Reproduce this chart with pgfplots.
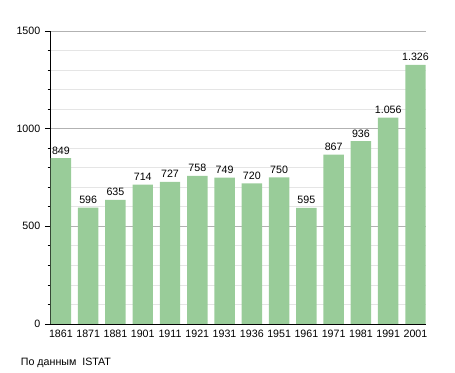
\documentclass[border=0pt]{standalone}
\usepackage{pgfplots}
\pgfplotsset{compat=1.18}
\usepackage{fontspec}
\setmainfont{Liberation Sans}
\definecolor{bargreen}{RGB}{153,204,153}
\begin{document}
\begin{tikzpicture}
\path[use as bounding box] (0pt,0pt) rectangle (341.25pt,279.75pt);
\begin{axis}[
  at={(37.5pt,36.75pt)}, anchor=south west,
  scale only axis, width=282pt, height=219.75pt,
  xmin=-0.40, xmax=13.385, ymin=0, ymax=1500,
  ybar, bar width=0.75,
  axis x line*=bottom, axis y line*=left,
  axis line style={-, black, line width=0.7pt},
  xtick={0,...,13},
  xticklabels={1861,1871,1881,1901,1911,1921,1931,1936,1951,1961,1971,1981,1991,2001},
  xtick style={draw=none},
  ytick={0,500,1000,1500},
  minor y tick num=4,
  tick align=outside,
  major tick length=3.75pt, minor tick length=1.8pt,
  tick style={black, line width=0.6pt},
  ymajorgrids, yminorgrids,
  major grid style={draw=black!30, line width=0.6pt},
  minor grid style={draw=black!10, line width=0.6pt},
  /pgf/number format/assume math mode=true,
  yticklabel style={/pgf/number format/1000 sep={}},
  tick label style={font=\fontsize{8}{9.6}\selectfont},
  xticklabel style={yshift=2.5pt},
  nodes near coords={\pgfmathprintnumber[1000 sep={.},assume math mode=true]{\pgfplotspointmeta}},
  every node near coord/.append style={font=\fontsize{8}{9.6}\selectfont, black, yshift=-0.5pt},
  clip=false,
]
\addplot[fill=bargreen, draw=none] coordinates {
(0,849) (1,596) (2,635) (3,714) (4,727) (5,758) (6,749)
(7,720) (8,750) (9,595) (10,867) (11,936) (12,1056) (13,1326)};
\end{axis}
\node[anchor=base west, font=\fontsize{8}{9.6}\selectfont, inner sep=0pt] at (15.5pt,5.5pt) {По данным\ \ ISTAT};
\end{tikzpicture}
\end{document}
